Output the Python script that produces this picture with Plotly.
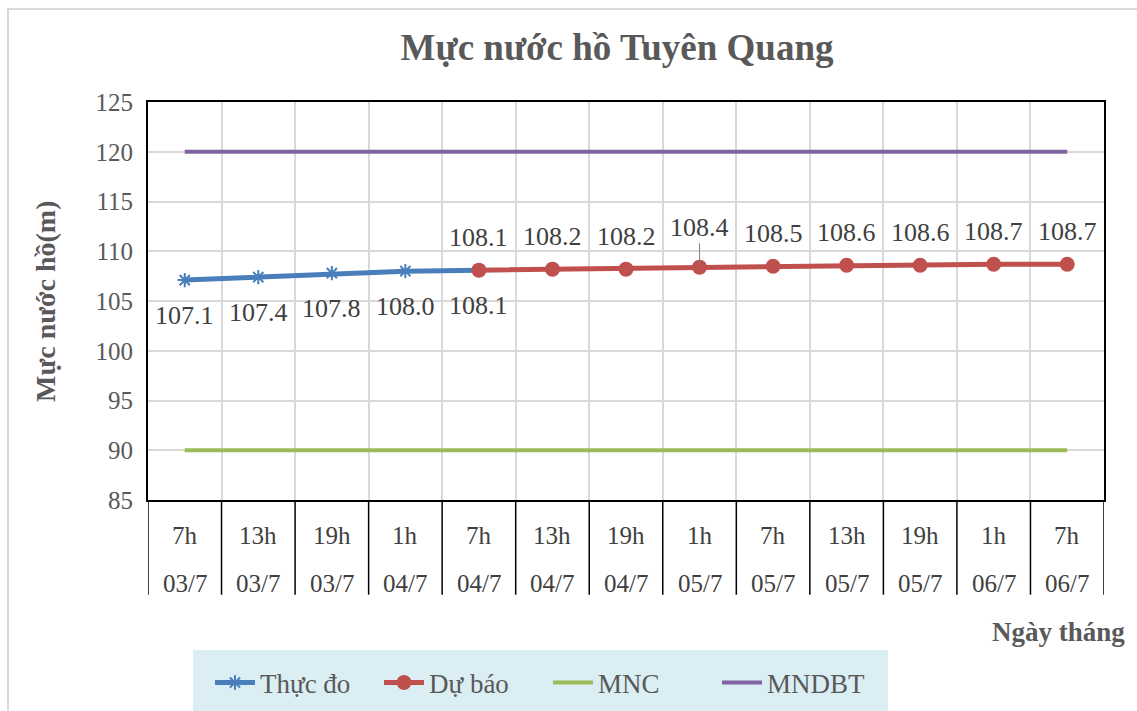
import plotly.graph_objects as go

hours = ["7h", "13h", "19h", "1h", "7h", "13h", "19h", "1h", "7h", "13h", "19h", "1h", "7h"]
dates = ["03/7", "03/7", "03/7", "04/7", "04/7", "04/7", "04/7", "05/7", "05/7", "05/7", "05/7", "06/7", "06/7"]
thuc_do_idx = [0, 1, 2, 3, 4]
thuc_do = [107.1, 107.4, 107.8, 108.0, 108.1]
du_bao_idx = [4, 5, 6, 7, 8, 9, 10, 11, 12]
du_bao = [108.1, 108.2, 108.2, 108.4, 108.5, 108.6, 108.6, 108.7, 108.7]
mnc = [90] * 13
mndbt = [120] * 13
all_idx = list(range(13))

FONT = "Liberation Serif"
GREY = "#595959"
DARK = "#404040"

fig = go.Figure()
fig.add_trace(go.Scatter(x=thuc_do_idx, y=thuc_do, name="Thực đo", mode="lines+markers",
                         line=dict(color="#4A7EBB", width=5),
                         marker=dict(symbol="asterisk-open", size=12, line=dict(color="#4A7EBB", width=2))))
fig.add_trace(go.Scatter(x=du_bao_idx, y=du_bao, name="Dự báo", mode="lines+markers",
                         line=dict(color="#C0504D", width=5),
                         marker=dict(symbol="circle", size=15, color="#C0504D")))
fig.add_trace(go.Scatter(x=all_idx, y=mnc, name="MNC", mode="lines",
                         line=dict(color="#9BBB59", width=4)))
fig.add_trace(go.Scatter(x=all_idx, y=mndbt, name="MNDBT", mode="lines",
                         line=dict(color="#8064A2", width=4)))

LBL = 26
ann = []
for xi, v in zip(thuc_do_idx, thuc_do):
    ann.append(dict(x=xi, y=v, xref="x", yref="y", text=f"{v:.1f}", showarrow=False,
                    yanchor="middle", yshift=-35, font=dict(family=FONT, size=LBL, color=DARK)))
for xi, v in zip(du_bao_idx, du_bao):
    if xi == 7:
        ann.append(dict(x=xi, y=v, xref="x", yref="y", text=f"{v:.1f}", showarrow=True,
                        arrowhead=0, arrowwidth=1, arrowcolor="#808080", ax=0, ay=-40,
                        standoff=3, font=dict(family=FONT, size=LBL, color=DARK)))
    else:
        ann.append(dict(x=xi, y=v, xref="x", yref="y", text=f"{v:.1f}", showarrow=False,
                        yanchor="middle", yshift=33, font=dict(family=FONT, size=LBL, color=DARK)))
for i in all_idx:
    ann.append(dict(x=i, y=(500 - 535) / 398, xref="x", yref="paper", text=hours[i], showarrow=False,
                    xanchor="center", yanchor="middle", font=dict(family=FONT, size=25, color=DARK)))
    ann.append(dict(x=i, y=(500 - 583) / 398, xref="x", yref="paper", text=dates[i], showarrow=False,
                    xanchor="center", yanchor="middle", font=dict(family=FONT, size=25, color=DARK)))
ann.append(dict(x=(1127 - 148) / 956, y=(500 - 632) / 398, xref="paper", yref="paper",
                text="<b>Ngày tháng</b>", showarrow=False, xanchor="right", yanchor="middle",
                font=dict(family=FONT, size=27, color=GREY)))
ann.append(dict(x=(45 - 148) / 956, y=(500 - 301) / 398, xref="paper", yref="paper",
                text="<b>Mực nước hồ(m)</b>", showarrow=False, textangle=-90,
                xanchor="center", yanchor="middle", font=dict(family=FONT, size=28, color=GREY)))

shapes = []
for i in range(14):
    shapes.append(dict(type="line", xref="x", yref="paper", x0=i - 0.5, x1=i - 0.5, y0=0, y1=-0.238,
                       line=dict(color="black", width=1.5)))
# legend background
shapes.append(dict(type="rect", xref="paper", yref="paper",
                   x0=(193 - 148) / 956, x1=(888 - 148) / 956,
                   y0=(500 - 650) / 398, y1=(500 - 715) / 398,
                   fillcolor="#DAEEF3", line=dict(width=0), layer="below"))
# outer border
shapes.append(dict(type="rect", xref="paper", yref="paper",
                   x0=(8 - 148) / 956, x1=(1145 - 148) / 956,
                   y0=(500 - 720) / 398, y1=(500 - 9) / 398,
                   line=dict(color="#D9D9D9", width=2)))

fig.update_layout(
    width=1137, height=711,
    margin=dict(l=148, r=33, t=102, b=211, autoexpand=False),
    paper_bgcolor="white", plot_bgcolor="white",
    title=dict(text="<b>Mực nước hồ Tuyên Quang</b>", x=(617 - 148) / 956, xref="paper",
               xanchor="center", y=1 - 47 / 711, yanchor="middle",
               font=dict(family=FONT, size=37, color=GREY)),
    font=dict(family=FONT, color=GREY),
    showlegend=True,
    legend=dict(orientation="h", x=(548 - 148) / 956, xanchor="center",
                y=(500 - 683) / 398, yanchor="middle", bgcolor="rgba(0,0,0,0)",
                font=dict(family=FONT, size=27, color=GREY), itemwidth=40,
                entrywidth=114),
    annotations=ann, shapes=shapes,
    xaxis=dict(range=[-0.5, 12.5], tickmode="linear", tick0=0.5, dtick=1, showticklabels=False,
               showgrid=True, gridcolor="#D9D9D9", gridwidth=1.5, zeroline=False,
               showline=True, linecolor="black", linewidth=2, mirror=True, ticks=""),
    yaxis=dict(range=[85, 125], tickmode="linear", tick0=85, dtick=5,
               showgrid=True, gridcolor="#D9D9D9", gridwidth=1.5, zeroline=False,
               showline=True, linecolor="black", linewidth=2, mirror=True, ticks="",
               tickfont=dict(family=FONT, size=25, color=GREY), ticklabelstandoff=8),
)

fig.write_html("out.html", config={"displayModeBar": False},
               post_script="document.body.style.margin='0';")
